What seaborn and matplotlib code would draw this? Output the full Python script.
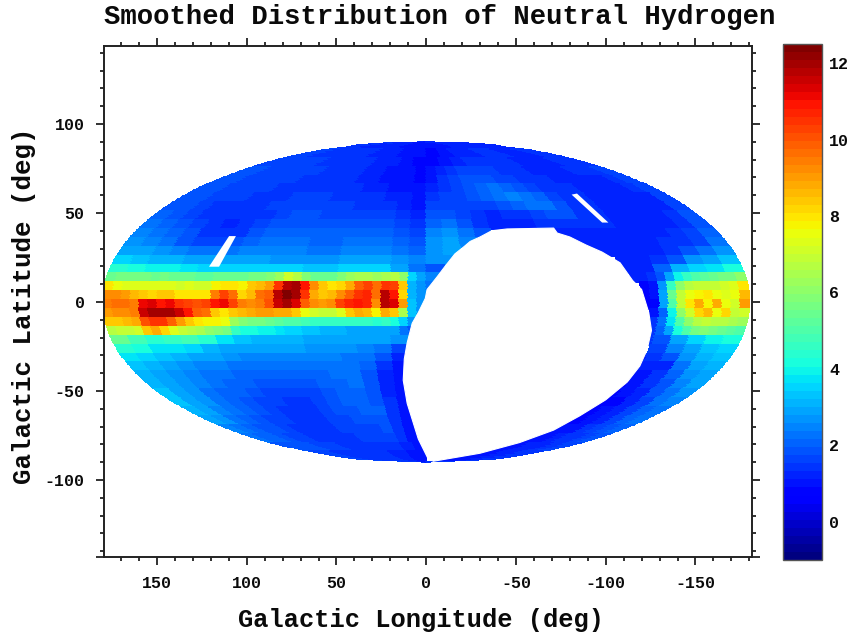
import numpy as np
import matplotlib
matplotlib.use("Agg")
import matplotlib.pyplot as plt
import seaborn as sns
from matplotlib.colors import Normalize
from matplotlib.ticker import MultipleLocator

n = np.nan

# edges of the latitude rows, north to south
lat_edges = [90, 86, 81, 76, 71, 66, 61, 56, 51, 46, 41, 36, 31, 26, 21, 16, 11, 6, 1,
             -4, -9, -14, -19, -24, -29, -34, -39, -44, -49, -54, -59, -64, -69, -74, -79, -84, -90]

# NH column per latitude row, running from l=180 to l=-180
lat_p88 = [1.4, 1.3, 1.3, 1.2, 1.1, 0.9, 0.9, 1.1, 1.2, 1.3, 1.3, 1.3]
lat_p83 = [1.6, 1.5, 1.5, 1.4, 1.4, 1.3, 1.3, 1.1, 0.9, 0.8, 1.0, 1.2, 1.3, 1.4, 1.4, 1.3, 1.3, 1.4]
lat_p78 = [1.7, 1.7, 1.6, 1.6, 1.5, 1.5, 1.4, 1.4, 1.3, 1.2, 1.0, 0.8,
           0.8, 1.0, 1.3, 1.5, 1.5, 1.4, 1.4, 1.3, 1.3, 1.3, 1.4, 1.5]
lat_p73 = [1.8, 1.8, 1.7, 1.7, 1.7, 1.6, 1.6, 1.6, 1.5, 1.5, 1.4, 1.4, 1.3, 1.2, 1.1, 1.0, 0.9, 0.8,
           0.9, 1.2, 1.5, 1.7, 1.7, 1.6, 1.6, 1.5, 1.4, 1.4, 1.3, 1.3, 1.3, 1.3, 1.4, 1.4, 1.5, 1.6]
lat_p68 = [1.8, 1.8, 1.7, 1.7, 1.6, 1.6, 1.6, 1.5, 1.5, 1.5, 1.4, 1.4, 1.3, 1.2, 1.1, 1.0, 0.9, 0.8,
           1.1, 1.4, 1.6, 1.8, 1.9, 1.9, 1.7, 1.6, 1.5, 1.4, 1.4, 1.3, 1.3, 1.3, 1.3, 1.3, 1.4, 1.6]
lat_p63 = [1.9, 1.8, 1.7, 1.7, 1.6, 1.6, 1.5, 1.5, 1.5, 1.5, 1.4, 1.4, 1.4, 1.3, 1.2, 1.1, 1.0, 0.9,
           1.3, 1.5, 1.7, 1.9, 2.1, 2.2, 2.1, 1.9, 1.7, 1.5, 1.4, 1.4, 1.3, 1.3, 1.2, 1.3, 1.4, 1.6]
lat_p58 = [1.9, 1.8, 1.7, 1.6, 1.6, 1.5, 1.5, 1.5, 1.6, 1.6, 1.6, 1.5, 1.5, 1.4, 1.4, 1.3, 1.2, 1.0,
           1.4, 1.6, 1.7, 1.9, 2.1, 2.3, 2.4, 2.3, 2.0, 1.7, 1.5, 1.4, 1.3, 1.3, 1.2, 1.2, 1.3, 1.6]
lat_p53 = [1.9, 1.8, 1.7, 1.5, 1.5, 1.5, 1.5, 1.6, 1.6, 1.7, 1.7, 1.6, 1.6, 1.5, 1.5, 1.4, 1.3, 1.0,
           1.6, 1.7, 1.7, 1.6, 1.7, 1.9, 2.1, 2.2, 2.2, 1.9, 1.5, 1.4, 1.3, 1.3, 1.2, 1.2, 1.3, 1.7]
lat_p48 = [2.0, 1.9, 1.7, 1.5, 1.4, 1.4, 1.5, 1.5, 1.7, 1.8, 1.8, 1.7, 1.7, 1.6, 1.6, 1.6, 1.5, 1.2,
           1.8, 1.9, 1.7, 1.4, 1.3, 1.4, 1.5, 1.7, 1.8, 1.9, 1.5, 1.4, 1.3, 1.3, 1.2, 1.2, 1.4, 1.8]
lat_p43 = [2.2, 2.0, 1.8, 1.6, 1.4, 1.3, 1.4, 1.6, 1.8, 1.9, 1.9, 1.9, 1.8, 1.8, 1.8, 1.8, 1.7, 1.4,
           2.0, 2.2, 1.9, 1.5, 1.3, 1.2, 1.2, 1.4, 1.5, 1.5, 1.4, 1.4, 1.3, 1.3, 1.2, 1.3, 1.5, 1.9]
lat_p38 = [2.4, 2.2, 2.0, 1.8, 1.5, 1.4, 1.5, 1.8, 2.0, 2.1, 2.1, 2.0, 2.0, 2.0, 2.0, 2.0, 1.9, 1.6,
           2.4, 2.6, 2.2, 1.8, n, n, n, n, 1.3, 1.2, 1.2, 1.3, 1.3, 1.3, 1.3, 1.4, 1.6, 2.0]
lat_p33 = [2.6, 2.4, 2.2, 1.9, 1.7, 1.6, 1.8, 2.1, 2.2, 2.2, 2.2, 2.1, 2.1, 2.2, 2.2, 2.2, 2.0, 1.8,
           2.6, 2.8, 2.4, n, n, n, n, n, n, 1.2, 1.2, 1.3, 1.3, 1.3, 1.4, 1.5, 1.7, 2.2]
lat_p28 = [3.0, 2.8, 2.6, 2.4, 2.2, 2.2, 2.2, 2.4, 2.4, 2.4, 2.4, 2.3, 2.3, 2.4, 2.4, 2.4, 2.2, 2.0,
           2.6, 2.8, n, n, n, n, n, n, n, n, 1.2, 1.2, 1.3, 1.3, 1.5, 1.8, 2.2, 2.6]
lat_p23 = [3.6, 3.4, 3.2, 3.1, 3.0, 3.0, 2.8, 2.8, 2.8, 2.7, 2.7, 2.7, 2.7, 2.8, 2.8, 2.8, 2.6, 2.4,
           2.6, 2.6, n, n, n, n, n, n, n, n, n, 1.2, 1.3, 1.4, 1.8, 2.6, 3.0, 3.4]
lat_p18 = [4.4, 4.2, 4.0, 3.9, 3.7, 3.6, 3.6, 3.5, 3.6, 3.6, 3.5, 3.4, 3.4, 3.6, 3.6, 3.5, 2.8, 2.2,
           1.8, n, n, n, n, n, n, n, n, n, n, 1.2, 1.2, 2.0, 3.2, 3.6, 3.8, 4.2]

# the rows over the plane are read at twice the longitude resolution
lat_p13 = [5.5, 5.6, 5.6, 5.7, 5.6, 5.5, 5.6, 5.5, 5.4, 5.4, 5.3, 5.3,
           5.4, 5.4, 5.5, 5.5, 5.6, 5.6, 5.8, 6.2, 7.2, 6.8, 5.8, 5.4,
           5.4, 5.5, 5.8, 6.2, 6.5, 6.4, 6.2, 6.4, 6.8, 6.0, 3.6, 2.8,
           2.4, 2.4, n, n, n, n, n, n, n, n, n, n,
           n, n, n, n, n, n, n, n, n, n, n, 1.2,
           1.2, 1.4, 1.8, 3.0, 3.9, 4.6, 5.0, 5.2, 5.4, 5.6, 5.6, 6.0]
lat_p08 = [8.0, 7.6, 7.4, 7.4, 7.3, 7.4, 7.4, 7.3, 7.2, 7.3, 7.2, 7.1,
           7.8, 8.0, 7.9, 7.8, 8.3, 8.5, 9.0, 10.5, 11.8, 12.0, 11.0, 9.2,
           8.4, 8.0, 8.2, 8.8, 9.8, 10.2, 9.6, 10.6, 10.2, 8.4, 3.2, 2.6,
           2.2, n, n, n, n, n, n, n, n, n, n, n,
           n, n, n, n, n, n, n, n, n, n, n, n,
           0.8, 1.0, 2.6, 4.5, 6.0, 6.8, 7.0, 7.0, 7.0, 7.2, 7.4, 8.0]
lat_p03 = [9.2, 9.2, 9.0, 8.6, 8.4, 8.2, 8.3, 8.3, 8.0, 8.0, 8.0, 8.0,
           9.5, 10.2, 9.6, 8.2, 8.6, 9.6, 9.8, 11.8, 12.3, 12.0, 10.5, 8.8,
           8.4, 8.6, 9.2, 9.8, 10.4, 10.8, 9.6, 11.8, 11.0, 8.2, 3.2, 2.6,
           n, n, n, n, n, n, n, n, n, n, n, n,
           n, n, n, n, n, n, n, n, n, n, n, n,
           0.6, 1.0, 3.0, 5.5, 7.0, 7.6, 7.8, 8.0, 7.6, 7.4, 7.6, 8.6]
lat_m02 = [9.4, 9.6, 9.6, 9.4, 11.2, 11.4, 11.0, 11.2, 10.6, 10.2, 10.0, 10.2,
           11.0, 11.2, 10.2, 9.4, 9.2, 9.4, 10.0, 11.6, 12.0, 11.4, 9.8, 9.2,
           9.0, 9.2, 10.2, 10.8, 11.0, 10.8, 9.2, 11.8, 11.4, 9.0, 3.4, 2.6,
           n, n, n, n, n, n, n, n, n, n, n, n,
           n, n, n, n, n, n, n, n, n, n, n, n,
           0.6, 0.8, 3.0, 5.0, 7.0, 8.0, 8.8, 7.8, 8.8, 7.6, 7.2, 9.0]
lat_m07 = [9.0, 9.2, 9.2, 9.4, 11.6, 12.0, 12.0, 12.0, 11.6, 11.0, 9.8, 9.6,
           8.4, 8.0, 8.4, 8.6, 8.8, 9.0, 9.0, 8.8, 8.8, 8.4, 7.6, 7.2,
           7.0, 7.0, 7.4, 8.4, 8.8, 8.6, 7.8, 8.8, 8.4, 6.4, 3.4, 2.6,
           n, n, n, n, n, n, n, n, n, n, n, n,
           n, n, n, n, n, n, n, n, n, n, n, n,
           n, 1.0, 2.0, 4.0, 6.0, 7.2, 8.2, 8.6, 7.6, 8.2, 7.0, 7.2]
lat_m12 = [8.4, 8.4, 8.6, 8.8, 10.0, 10.4, 10.4, 9.8, 9.0, 8.4, 8.0, 7.8,
           7.8, 7.6, 6.2, 5.8, 5.6, 5.6, 5.4, 5.2, 5.0, 5.0, 4.8, 4.6,
           4.6, 4.5, 4.6, 4.6, 4.6, 4.5, 4.4, 4.5, 4.2, 3.6, 2.6, n,
           n, n, n, n, n, n, n, n, n, n, n, n,
           n, n, n, n, n, n, n, n, n, n, n, n,
           n, 1.4, 2.2, 3.8, 5.0, 6.0, 6.8, 7.0, 6.8, 6.6, 6.4, 6.2]
lat_m17 = [6.8, 7.0, 7.0, 7.2, 8.4, 8.8, 8.2, 7.4, 7.0, 6.8, 6.4, 6.0,
           5.8, 5.6, 4.6, 4.2, 4.2, 4.0, 4.0, 3.8, 3.6, 3.6, 3.4, 3.4,
           3.2, 3.2, 3.2, 3.0, 3.0, 3.0, 3.0, 3.0, 2.8, 2.2, 1.8, n,
           n, n, n, n, n, n, n, n, n, n, n, n,
           n, n, n, n, n, n, n, n, n, n, n, n,
           n, 1.4, 2.0, 3.0, 4.2, 5.0, 5.6, 5.8, 5.6, 5.4, 5.2, 5.0]

lat_m22 = [5.4, 4.8, 4.4, 4.6, 4.8, 4.4, 3.8, 3.4, 3.2, 3.2, 3.2, 3.0, 3.0, 3.0, 2.9, 2.8, 2.6,
           n, n, n, n, n, n, n, n, n, n, n, n, n, 1.4, 1.8, 2.8, 3.6, 4.0, 4.2]
lat_m27 = [4.4, 4.2, 3.8, 3.8, 3.6, 3.2, 3.0, 2.8, 2.8, 2.8, 2.8, 2.7, 2.7, 2.6, 2.5, 2.2, 1.6,
           n, n, n, n, n, n, n, n, n, n, n, n, n, n, 1.6, 2.4, 3.0, 3.4, 3.6]
lat_m32 = [3.8, 3.6, 3.4, 3.2, 3.0, 2.8, 2.6, 2.4, 2.4, 2.4, 2.4, 2.4, 2.4, 2.3, 2.2, 1.8, 1.2,
           n, n, n, n, n, n, n, n, n, n, n, n, n, 1.0, 1.4, 1.8, 2.6, 3.2, 3.4]
lat_m37 = [3.4, 3.2, 3.0, 2.7, 2.5, 2.4, 2.3, 2.2, 2.2, 2.2, 2.2, 2.2, 2.3, 2.3, 2.0, 1.4, 1.0,
           n, n, n, n, n, n, n, n, n, n, n, n, n, 1.0, 1.3, 1.2, 2.2, 2.8, 3.2]
lat_m42 = [3.2, 3.0, 2.7, 2.5, 2.3, 2.2, 2.1, 2.0, 2.0, 2.0, 2.0, 2.1, 2.2, 2.2, 1.8, 1.2, 0.9,
           n, n, n, n, n, n, n, n, n, n, n, n, n, 1.0, 1.0, 1.5, 2.0, 2.6, 3.0]
lat_m47 = [3.2, 2.9, 2.6, 2.4, 2.2, 2.1, 2.0, 1.9, 1.8, 1.8, 1.9, 2.0, 2.1, 2.2, 1.9, 1.3, 0.9,
           n, n, n, n, n, n, n, n, n, n, n, n, n, 0.8, 0.9, 1.4, 1.9, 2.4, 2.9]
lat_m52 = [3.3, 3.0, 2.6, 2.3, 2.1, 2.0, 1.8, 1.7, 1.6, 1.6, 1.7, 1.9, 2.0, 2.0, 1.9, 1.3, 0.9,
           n, n, n, n, n, n, n, n, n, n, n, n, n, 0.8, 0.9, 1.3, 1.8, 2.3, 2.7]
lat_m57 = [3.4, 3.0, 2.6, 2.3, 2.1, 1.9, 1.7, 1.6, 1.5, 1.5, 1.6, 1.8, 2.0, 2.0, 1.9, 1.4, 0.9,
           n, n, n, n, n, n, n, n, n, n, n, n, n, 0.8, 0.8, 1.2, 1.7, 2.2, 2.5]
lat_m62 = [3.2, 2.9, 2.5, 2.2, 2.0, 1.8, 1.6, 1.5, 1.5, 1.5, 1.6, 1.8, 1.9, 2.0, 2.0, 1.5, 1.0,
           n, n, n, n, n, n, n, n, n, n, n, n, 0.8, 0.8, 0.9, 1.3, 1.7, 2.1, 2.3]
lat_m67 = [2.8, 2.6, 2.3, 2.1, 1.9, 1.7, 1.6, 1.5, 1.5, 1.5, 1.6, 1.7, 1.8, 1.9, 1.9, 1.5, 1.0,
           n, n, n, n, n, n, n, n, n, n, n, n, 0.8, 0.8, 0.9, 1.3, 1.6, 2.0, 2.2]
lat_m72 = [2.5, 2.3, 2.1, 1.9, 1.8, 1.6, 1.5, 1.5, 1.5, 1.5, 1.6, 1.6, 1.7, 1.7, 1.8, 1.5, 1.1, 0.9,
           n, n, n, n, n, n, n, n, n, n, n, 0.9, 1.0, 1.1, 1.4, 1.6, 1.8, 2.0]
lat_m77 = [2.2, 2.1, 2.0, 1.8, 1.7, 1.6, 1.5, 1.5, 1.5, 1.5, 1.5, 1.6, 1.6, 1.6, 1.6, 1.4, 1.1, 0.9,
           n, n, n, n, n, n, n, n, n, n, 0.9, 1.0, 1.1, 1.3, 1.4, 1.5, 1.6, 1.8]
lat_m82 = [1.9, 1.9, 1.8, 1.7, 1.6, 1.5, 1.5, 1.5, 1.5, 1.4, 1.2, 0.9,
           n, n, n, n, n, n, 1.0, 1.1, 1.2, 1.3, 1.4, 1.6]
lat_m87 = [1.6, 1.5, 1.4, 1.4, 1.3, 1.1, n, n, 1.0, 1.1, 1.2, 1.4]

lat_rows = [lat_p88, lat_p83, lat_p78, lat_p73, lat_p68, lat_p63, lat_p58, lat_p53, lat_p48,
            lat_p43, lat_p38, lat_p33, lat_p28, lat_p23, lat_p18, lat_p13, lat_p08, lat_p03,
            lat_m02, lat_m07, lat_m12, lat_m17, lat_m22, lat_m27, lat_m32, lat_m37, lat_m42,
            lat_m47, lat_m52, lat_m57, lat_m62, lat_m67, lat_m72, lat_m77, lat_m82, lat_m87]

# unobserved regions, as plotted
hole_x = [-1, 4.4, 7.8, 10.6, 12.8, 12.2, 10.6, 7.8, 4.4, 0.5, -0.5, -6, -10.5, -16, -21, -24.5, -30, -36.5,
          -45, -71, -73, -80, -89, -98, -108, -115, -120, -124, -125.5, -123, -119, -112, -100, -85.5,
          -71, -52, -30, -4]
hole_y = [-88, -77, -66, -57, -44, -32, -23, -12, -6, 2, 7, 14, 20, 27, 31, 34, 36.5, 40,
          41, 41.5, 38.7, 36.5, 32, 28, 22, 12, 7, -6, -16, -27, -36, -45, -55, -64,
          -72, -79, -85, -89.5]
slit_left_x = [109.8, 106, 115.4, 121]
slit_left_y = [37, 37, 19.8, 19.8]
slit_right_x = [-81, -84, -101.5, -98]
slit_right_y = [60.3, 60.9, 44.6, 44.6]

x_major = [150, 100, 50, 0, -50, -100, -150]
y_major = [100, 50, 0, -50, -100]
y_corner = -143.3
cbar_ticks = [0, 2, 4, 6, 8, 10, 12]

sns.set_theme(style="ticks")
plt.rcParams['font.family'] = ['Liberation Mono', 'DejaVu Sans']
plt.rcParams['font.weight'] = 'bold'
plt.rcParams['axes.unicode_minus'] = False
plt.rcParams['text.color'] = '#0a0a0a'
plt.rcParams['axes.labelcolor'] = '#0a0a0a'
plt.rcParams['xtick.labelcolor'] = '#0a0a0a'
plt.rcParams['ytick.labelcolor'] = '#0a0a0a'

W, H = 849, 635
fig = plt.figure(figsize=(W / 100, H / 100), dpi=100)
ax = fig.add_axes([104 / W, 1 - 557 / H, (752 - 104) / W, (557 - 46) / H])
cax = fig.add_axes([783 / W, 1 - 560 / H, (822 - 783) / W, (560 - 44) / H])

cmap = plt.get_cmap('jet', 64)
norm = Normalize(-1, 12.5)


def ellipse_width(y):
    return np.sqrt(1 - (y / 90.0) ** 2)


SUB = 6  # sub-strips per row, so the limb of the ellipse stays round
mesh = None
for i, row in enumerate(lat_rows):
    y_sub = np.linspace(lat_edges[i + 1], lat_edges[i], SUB + 1)
    lon = np.linspace(180, -180, len(row) + 1)
    X = np.outer(ellipse_width(y_sub), lon)
    Y = np.outer(y_sub, np.ones_like(lon))
    C = np.repeat(np.array([row]), SUB, axis=0)
    mesh = ax.pcolormesh(X, Y, C, cmap=cmap, norm=norm, edgecolors='face', linewidth=0.3)

ax.fill(hole_x, hole_y, color='white', lw=0.8, zorder=3)
ax.fill(slit_left_x, slit_left_y, color='white', lw=0, zorder=3)
ax.fill(slit_right_x, slit_right_y, color='white', lw=0, zorder=3)

ax.set_xlim(179.5, -181.5)
ax.set_ylim(y_corner, 143.8)
ax.set_xticks(x_major)
ax.set_yticks(y_major + [y_corner], labels=[str(v) for v in y_major] + [''])
ax.xaxis.set_minor_locator(MultipleLocator(10))
ax.yaxis.set_minor_locator(MultipleLocator(10))
ax.tick_params(which='major', direction='out', length=6, width=1.3, color='#222222',
               top=True, right=True, labelsize=12, pad=8)
ax.tick_params(which='minor', direction='out', length=3, width=1.3, color='#222222',
               top=True, right=True)
for side in ax.spines.values():
    side.set_linewidth(1.4)
    side.set_color('#222222')

ax.set_xlabel("Galactic Longitude (deg)", fontsize=18.3, fontweight='bold', va='center')
ax.set_ylabel("Galactic Latitude (deg)", fontsize=18.5, fontweight='bold', va='center')
ax.xaxis.set_label_coords((421 - 104) / 648, -(620 - 557) / 511)
ax.yaxis.set_label_coords(-(104 - 24) / 648, (557 - 306) / 511)
fig.text(440 / W, 1 - 17 / H, "Smoothed Distribution of Neutral Hydrogen",
         fontsize=19.6, fontweight='bold', ha='center', va='center')

cbar = fig.colorbar(mesh, cax=cax)
cbar.set_ticks(cbar_ticks)
cbar.ax.tick_params(direction='in', length=4, width=1.3, left=True, right=True,
                    labelsize=12, pad=5, color='#222222')
cbar.outline.set_linewidth(1.0)
cbar.outline.set_edgecolor('#555555')

fig.savefig("out.png", dpi=100)
